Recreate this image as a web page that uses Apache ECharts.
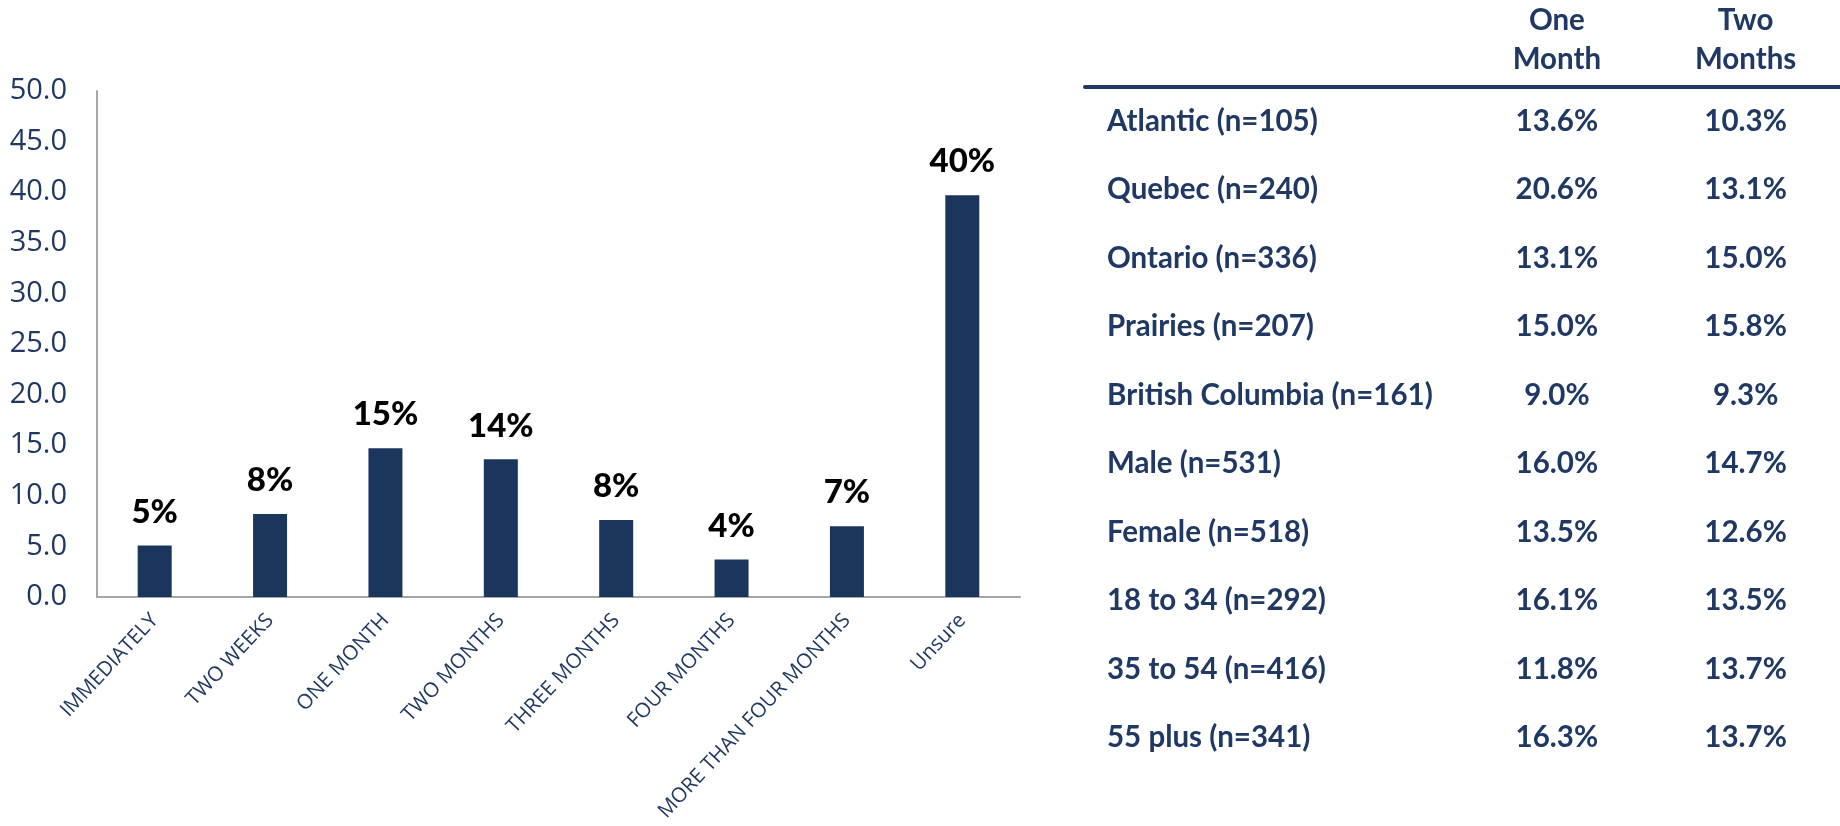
<!DOCTYPE html>
<html lang="en">
<head>
    <meta charset="UTF-8" />
    <title>Timing</title>
    <style>
        html, body { margin: 0; padding: 0; background: #fff; }
        #chart { width: 1840px; height: 826px; }
    </style>
</head>
<body>
    <div id="chart"></div>
    <script src="https://cdn.jsdelivr.net/npm/echarts@6/dist/echarts.min.js"></script>
    <script type="text/javascript">
        // bar chart data
        var categories = ['IMMEDIATELY', 'TWO WEEKS', 'ONE MONTH', 'TWO MONTHS', 'THREE MONTHS',
            'FOUR MONTHS', 'MORE THAN FOUR MONTHS', 'Unsure'];
        var shares = [5.1, 8.2, 14.7, 13.6, 7.6, 3.7, 7.0, 39.7];

        // table data
        var colHeaders = ['', '', 'One\nMonth', 'Two\nMonths'];
        var rowNames = ['Atlantic (n=105)', 'Quebec (n=240)', 'Ontario (n=336)', 'Prairies (n=207)',
            'British Columbia (n=161)', 'Male (n=531)', 'Female (n=518)', '18 to 34 (n=292)',
            '35 to 54 (n=416)', '55 plus (n=341)'];
        var oneMonth = [13.6, 20.6, 13.1, 15.0, 9.0, 16.0, 13.5, 16.1, 11.8, 16.3];
        var twoMonths = [10.3, 13.1, 15.0, 15.8, 9.3, 14.7, 12.6, 13.5, 13.7, 13.7];

        var navy = '#1f3864';
        var barColor = '#1b365d';
        var axisGray = '#a6a6a6';

        function cells(col, vals) {
            return vals.map(function (v, i) { return [col, i, v]; });
        }

        var cellLabel = {
            show: true,
            position: 'inside',
            color: navy,
            fontFamily: 'Lato',
            fontWeight: 'bold',
            fontSize: 29.5,
            formatter: function (p) { return p.value[2].toFixed(1) + '%'; }
        };

        var chart = echarts.init(document.getElementById('chart'));
        var option = {
            animation: false,
            backgroundColor: '#fff',
            grid: [
                { left: 97, right: 820, top: 91, bottom: 229, outerBoundsMode: 'none' },
                { left: 1085, right: 0, top: 87, bottom: 54, outerBoundsMode: 'none' }
            ],
            xAxis: [{
                gridIndex: 0,
                type: 'category',
                data: categories,
                axisLine: { lineStyle: { color: axisGray, width: 2 } },
                axisTick: { show: false },
                axisLabel: {
                    interval: 0,
                    rotate: 47,
                    margin: 20,
                    color: navy,
                    fontFamily: 'Open Sans',
                    fontSize: 20.5
                }
            }, {
                gridIndex: 1,
                type: 'category',
                position: 'top',
                data: colHeaders,
                axisLine: { lineStyle: { color: navy, width: 4 } },
                axisTick: { show: false },
                axisLabel: {
                    interval: 0,
                    margin: 8,
                    color: navy,
                    fontFamily: 'Lato',
                    fontWeight: 'bold',
                    fontSize: 29.5,
                    lineHeight: 39
                }
            }],
            yAxis: [{
                gridIndex: 0,
                type: 'value',
                min: 0,
                max: 50,
                interval: 5,
                splitLine: { show: false },
                axisTick: { show: false },
                axisLine: { show: true, lineStyle: { color: axisGray, width: 2 } },
                axisLabel: {
                    margin: 30,
                    color: navy,
                    fontFamily: 'Open Sans',
                    fontSize: 29,
                    formatter: function (v) { return v.toFixed(1); }
                }
            }, {
                gridIndex: 1,
                type: 'category',
                data: rowNames,
                inverse: true,
                axisLine: { show: false },
                axisTick: { show: false },
                axisLabel: {
                    inside: true,
                    margin: 22,
                    color: navy,
                    fontFamily: 'Lato',
                    fontWeight: 'bold',
                    fontSize: 29.5
                }
            }],
            series: [{
                type: 'bar',
                xAxisIndex: 0,
                yAxisIndex: 0,
                data: shares,
                barWidth: 34,
                itemStyle: { color: barColor },
                label: {
                    show: true,
                    position: 'top',
                    distance: 17,
                    color: '#000',
                    fontFamily: 'Lato',
                    fontWeight: 900,
                    fontSize: 33,
                    formatter: function (p) { return Math.round(p.value) + '%'; }
                }
            }, {
                type: 'scatter',
                xAxisIndex: 1,
                yAxisIndex: 1,
                symbolSize: 0,
                itemStyle: { opacity: 1 },
                data: cells(2, oneMonth),
                label: cellLabel
            }, {
                type: 'scatter',
                xAxisIndex: 1,
                yAxisIndex: 1,
                symbolSize: 0,
                itemStyle: { opacity: 1 },
                data: cells(3, twoMonths),
                label: cellLabel
            }]
        };
        chart.setOption(option);
    </script>
</body>
</html>
